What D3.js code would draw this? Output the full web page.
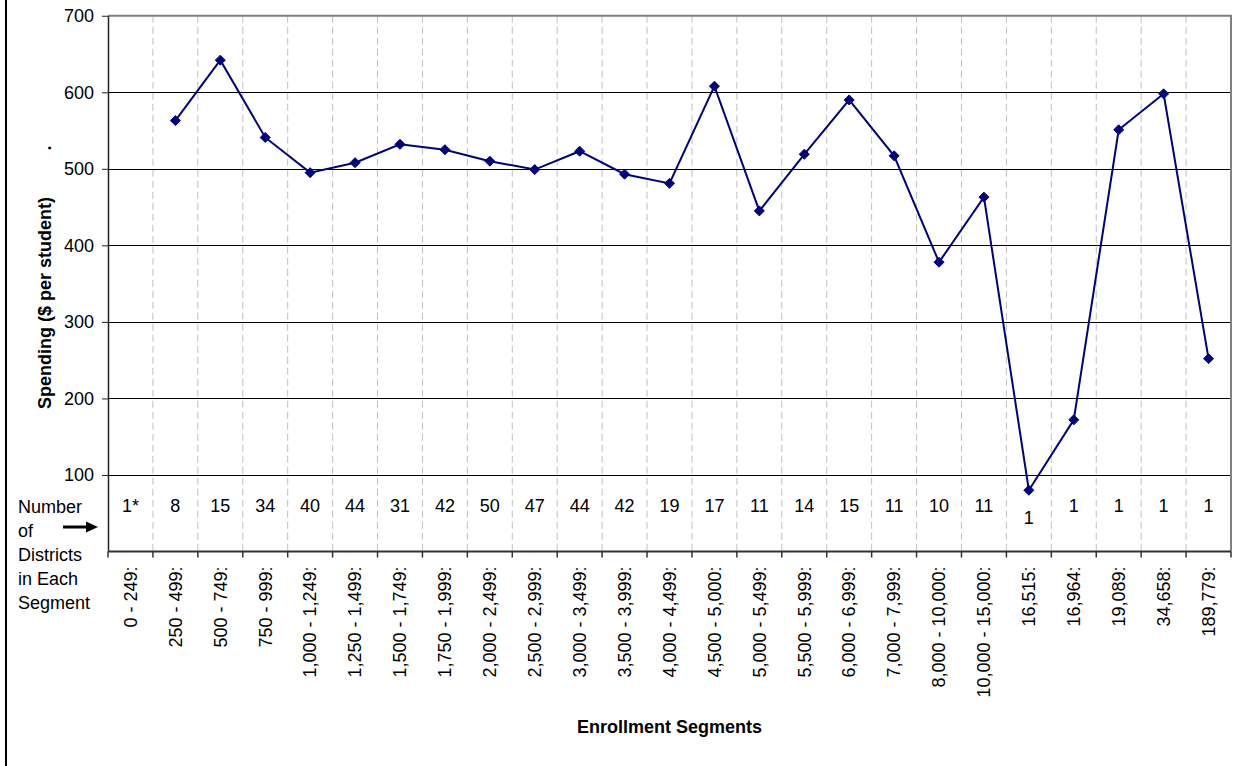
<!DOCTYPE html>
<html>
<head>
<meta charset="utf-8">
<script src="https://cdn.jsdelivr.net/npm/d3@7"></script>
<style>
  html, body { margin: 0; padding: 0; background: #fff; }
  svg { display: block; font-family: "Liberation Sans", Arial, sans-serif; }
</style>
</head>
<body>
<svg id="chart" width="1243" height="766"></svg>
<script>
// Enrollment segments (x categories)
const categories = [
  "0 - 249:", "250 - 499:", "500 - 749:", "750 - 999:",
  "1,000 - 1,249:", "1,250 - 1,499:", "1,500 - 1,749:", "1,750 - 1,999:",
  "2,000 - 2,499:", "2,500 - 2,999:", "3,000 - 3,499:", "3,500 - 3,999:",
  "4,000 - 4,499:", "4,500 - 5,000:", "5,000 - 5,499:", "5,500 - 5,999:",
  "6,000 - 6,999:", "7,000 - 7,999:", "8,000 - 10,000:", "10,000 - 15,000:",
  "16,515:", "16,964:", "19,089:", "34,658:", "189,779:"
];

// Spending in $ per student (first segment has no value)
const spending = [
  null, 563, 642, 541, 495, 508, 532, 525, 510, 499, 523, 493,
  481, 608, 445, 519, 590, 517, 378, 463, 80, 172, 551, 598, 252
];

// Number of districts in each segment
const districtCounts = [
  "1*", "8", "15", "34", "40", "44", "31", "42", "50", "47", "44", "42",
  "19", "17", "11", "14", "15", "11", "10", "11", "1", "1", "1", "1", "1"
];

const yTickValues = [100, 200, 300, 400, 500, 600, 700];
const sideNote = ["Number", "of", "Districts", "in Each", "Segment"];

const svg = d3.select("#chart");
const plot = { left: 108, right: 1231, top: 15.75, bottom: 551.5 };
const FONT = 18;

const x = d3.scaleBand().domain(categories).range([plot.left, plot.right]).padding(0);
const y = d3.scaleLinear().domain([0, 700]).range([plot.bottom, plot.top]);
const cx = c => x(c) + x.bandwidth() / 2;

// outer frame edge on the left
svg.append("line")
  .attr("x1", 6).attr("x2", 6).attr("y1", 0).attr("y2", 766)
  .attr("stroke", "#000").attr("stroke-width", 2);

// dashed vertical gridlines at segment boundaries
const boundaries = categories.slice(1).map(c => x(c));
svg.append("g").selectAll("line").data(boundaries).join("line")
  .attr("x1", d => d).attr("x2", d => d)
  .attr("y1", plot.top).attr("y2", plot.bottom)
  .attr("stroke", "#c0c0c0").attr("stroke-width", 1)
  .attr("stroke-dasharray", "7,4");

// horizontal gridlines
svg.append("g").selectAll("line").data(yTickValues.filter(v => v < 700)).join("line")
  .attr("x1", plot.left).attr("x2", plot.right)
  .attr("y1", d => Math.round(y(d)) + 0.5).attr("y2", d => Math.round(y(d)) + 0.5)
  .attr("stroke", "#000").attr("stroke-width", 1);

// plot border (top and right)
svg.append("path")
  .attr("d", `M${plot.left},${plot.top} H${plot.right} V${plot.bottom}`)
  .attr("fill", "none").attr("stroke", "#808080").attr("stroke-width", 2);

// y axis
const yAxis = svg.append("g")
  .attr("transform", `translate(${plot.left},0)`)
  .call(d3.axisLeft(y).tickValues(yTickValues).tickSize(6).tickSizeOuter(0).tickPadding(8));
yAxis.select(".domain").attr("stroke", "#222").attr("stroke-width", 1.5);
yAxis.selectAll(".tick line").attr("stroke", "#222");
yAxis.selectAll(".tick text")
  .attr("font-size", FONT).attr("fill", "#000")
  .attr("font-family", "Liberation Sans, Arial, sans-serif");

// x axis line with boundary ticks
svg.append("line")
  .attr("x1", plot.left).attr("x2", plot.right)
  .attr("y1", plot.bottom).attr("y2", plot.bottom)
  .attr("stroke", "#333").attr("stroke-width", 2);
svg.append("g").selectAll("line")
  .data(categories.map(c => x(c)).concat([plot.right]))
  .join("line")
  .attr("x1", d => d).attr("x2", d => d)
  .attr("y1", plot.bottom).attr("y2", plot.bottom + 6)
  .attr("stroke", "#333").attr("stroke-width", 1.5);

// x axis category labels, rotated
const xAxis = svg.append("g")
  .attr("transform", `translate(0,${plot.bottom})`)
  .call(d3.axisBottom(x).tickSize(0).tickPadding(0));
xAxis.select(".domain").remove();
xAxis.selectAll(".tick text")
  .attr("font-size", FONT).attr("fill", "#000")
  .attr("font-family", "Liberation Sans, Arial, sans-serif")
  .attr("text-anchor", "end")
  .attr("transform", "rotate(-90)")
  .attr("x", -15).attr("y", 0).attr("dy", "0.35em");

// spending line
const pts = categories.map((c, i) => ({ c, v: spending[i] }));
svg.append("path")
  .datum(pts)
  .attr("d", d3.line().defined(d => d.v != null).x(d => cx(d.c)).y(d => y(d.v)))
  .attr("fill", "none").attr("stroke", "#000080").attr("stroke-width", 2);

// diamond markers
svg.append("g").selectAll("path").data(pts.filter(d => d.v != null)).join("path")
  .attr("transform", d => `translate(${cx(d.c)},${y(d.v)})`)
  .attr("d", "M0,-5L5,0L0,5L-5,0Z")
  .attr("fill", "#000080").attr("stroke", "#000080").attr("stroke-width", 1);

// district counts, moved down where a marker sits close above
const countBaseline = 511.5;
svg.append("g").selectAll("text").data(categories).join("text")
  .attr("x", d => cx(d))
  .attr("y", (d, i) => {
    const v = spending[i];
    const clash = v != null && countBaseline - y(v) < 30;
    return clash ? countBaseline + 12 : countBaseline;
  })
  .attr("text-anchor", "middle")
  .attr("font-size", FONT).attr("fill", "#000")
  .text((d, i) => districtCounts[i]);

// side note with arrow
svg.append("g").selectAll("text").data(sideNote).join("text")
  .attr("x", 18).attr("y", (d, i) => 513 + i * 24)
  .attr("font-size", FONT).attr("fill", "#000")
  .text(d => d);
svg.append("line")
  .attr("x1", 63).attr("x2", 88).attr("y1", 527).attr("y2", 527)
  .attr("stroke", "#000").attr("stroke-width", 3);
svg.append("path")
  .attr("d", "M86,521.5L98,527L86,532.5Z").attr("fill", "#000");

// axis titles
svg.append("text")
  .attr("transform", "translate(45,303) rotate(-90)")
  .attr("text-anchor", "middle").attr("dy", "0.35em")
  .attr("font-size", FONT).attr("font-weight", "bold").attr("fill", "#000")
  .text("Spending ($ per student)");
svg.append("text")
  .attr("transform", "translate(45,148) rotate(-90)")
  .attr("text-anchor", "middle").attr("dy", "0.35em")
  .attr("font-size", FONT).attr("font-weight", "bold").attr("fill", "#000")
  .text(".");
svg.append("text")
  .attr("x", (plot.left + plot.right) / 2).attr("y", 733)
  .attr("text-anchor", "middle")
  .attr("font-size", FONT).attr("font-weight", "bold").attr("fill", "#000")
  .text("Enrollment Segments");
</script>
</body>
</html>
